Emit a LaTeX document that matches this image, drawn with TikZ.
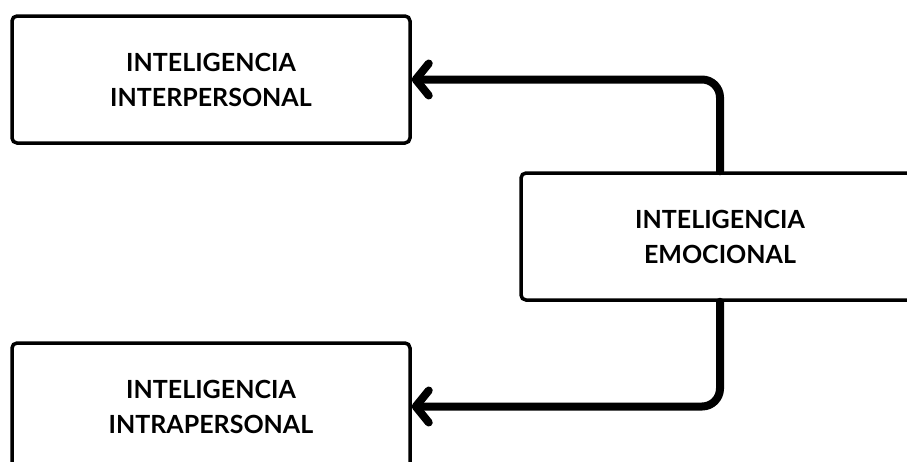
\documentclass[tikz,border=0pt]{standalone}
\usepackage{fontspec}
\setmainfont{Lato}
\usetikzlibrary{arrows.meta}

\begin{document}
\begin{tikzpicture}[x=1pt, y=-1pt,
    box/.style={rectangle, draw=black, line width=3.5pt, fill=white, minimum width=398pt, minimum height=127pt, align=center, rounded corners=5pt, font=\fontsize{25}{35}\selectfont\bfseries},
    link/.style={-{Straight Barb[length=13pt, width=32pt, line cap=round, line join=round]}, line width=8pt, rounded corners=18pt, line cap=round}
]
\useasboundingbox (0,0) rectangle (907,461);
\clip (0,0) rectangle (907,461);
\node[box] (inter) at (211,79.5) {INTELIGENCIA\\INTERPERSONAL};
\node[box] (emo) at (720,236.5) {INTELIGENCIA\\EMOCIONAL};
\node[box] (intra) at (211,406.5) {INTELIGENCIA\\INTRAPERSONAL};

\draw[link] (emo.north) |- (inter.east);
\draw[link] (emo.south) |- (intra.east);
\end{tikzpicture}
\end{document}
